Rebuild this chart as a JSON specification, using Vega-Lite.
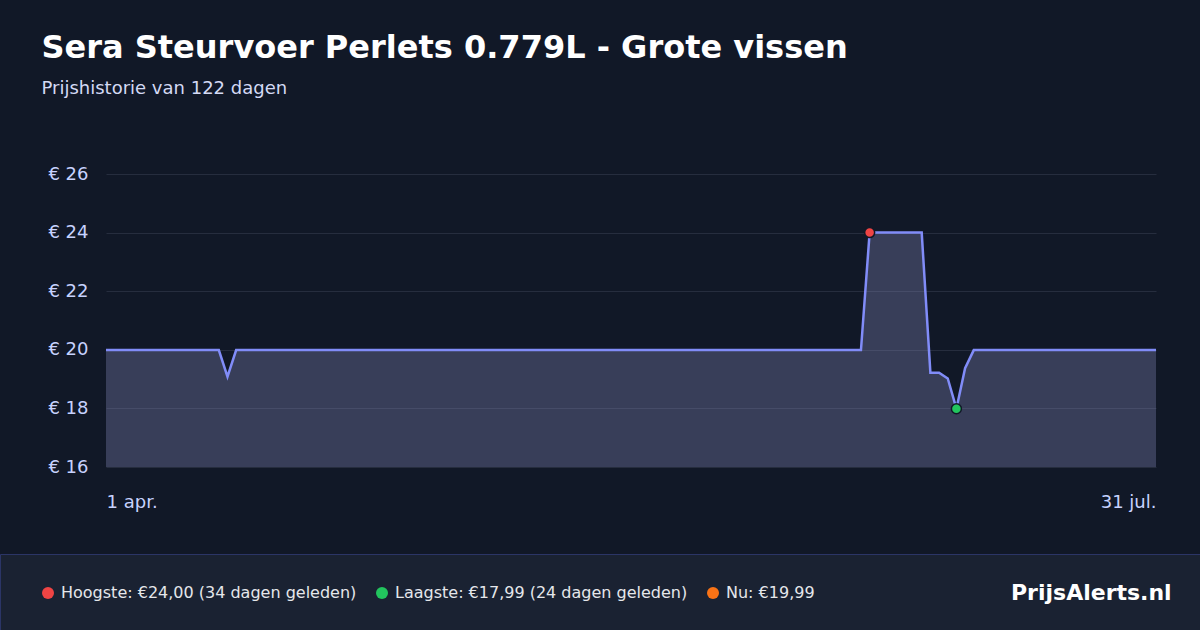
{
  "$schema": "https://vega.github.io/schema/vega-lite/v6.json",
  "background": "#111827",
  "autosize": {"type": "none"},
  "padding": {"left": 106, "top": 174, "right": 44, "bottom": 163},
  "width": 1050,
  "height": 293,
  "title": {
    "text": "Sera Steurvoer Perlets 0.779L - Grote vissen",
    "subtitle": "Prijshistorie van 122 dagen",
    "anchor": "start",
    "dx": 42,
    "offset": 66,
    "font": "DejaVu Sans",
    "fontSize": 32,
    "fontWeight": "bold",
    "color": "#ffffff",
    "subtitleFont": "DejaVu Sans",
    "subtitleFontSize": 18,
    "subtitleColor": "#d4daf5",
    "subtitlePadding": 15
  },
  "data": {
    "values": [
      {"dag": "2025-04-01", "prijs": 19.99}, {"dag": "2025-04-02", "prijs": 19.99}, {"dag": "2025-04-03", "prijs": 19.99},
      {"dag": "2025-04-04", "prijs": 19.99}, {"dag": "2025-04-05", "prijs": 19.99}, {"dag": "2025-04-06", "prijs": 19.99},
      {"dag": "2025-04-07", "prijs": 19.99}, {"dag": "2025-04-08", "prijs": 19.99}, {"dag": "2025-04-09", "prijs": 19.99},
      {"dag": "2025-04-10", "prijs": 19.99}, {"dag": "2025-04-11", "prijs": 19.99}, {"dag": "2025-04-12", "prijs": 19.99},
      {"dag": "2025-04-13", "prijs": 19.99}, {"dag": "2025-04-14", "prijs": 19.99}, {"dag": "2025-04-15", "prijs": 19.08},
      {"dag": "2025-04-16", "prijs": 19.99}, {"dag": "2025-04-17", "prijs": 19.99}, {"dag": "2025-04-18", "prijs": 19.99},
      {"dag": "2025-04-19", "prijs": 19.99}, {"dag": "2025-04-20", "prijs": 19.99}, {"dag": "2025-04-21", "prijs": 19.99},
      {"dag": "2025-04-22", "prijs": 19.99}, {"dag": "2025-04-23", "prijs": 19.99}, {"dag": "2025-04-24", "prijs": 19.99},
      {"dag": "2025-04-25", "prijs": 19.99}, {"dag": "2025-04-26", "prijs": 19.99}, {"dag": "2025-04-27", "prijs": 19.99},
      {"dag": "2025-04-28", "prijs": 19.99}, {"dag": "2025-04-29", "prijs": 19.99}, {"dag": "2025-04-30", "prijs": 19.99},
      {"dag": "2025-05-01", "prijs": 19.99}, {"dag": "2025-05-02", "prijs": 19.99}, {"dag": "2025-05-03", "prijs": 19.99},
      {"dag": "2025-05-04", "prijs": 19.99}, {"dag": "2025-05-05", "prijs": 19.99}, {"dag": "2025-05-06", "prijs": 19.99},
      {"dag": "2025-05-07", "prijs": 19.99}, {"dag": "2025-05-08", "prijs": 19.99}, {"dag": "2025-05-09", "prijs": 19.99},
      {"dag": "2025-05-10", "prijs": 19.99}, {"dag": "2025-05-11", "prijs": 19.99}, {"dag": "2025-05-12", "prijs": 19.99},
      {"dag": "2025-05-13", "prijs": 19.99}, {"dag": "2025-05-14", "prijs": 19.99}, {"dag": "2025-05-15", "prijs": 19.99},
      {"dag": "2025-05-16", "prijs": 19.99}, {"dag": "2025-05-17", "prijs": 19.99}, {"dag": "2025-05-18", "prijs": 19.99},
      {"dag": "2025-05-19", "prijs": 19.99}, {"dag": "2025-05-20", "prijs": 19.99}, {"dag": "2025-05-21", "prijs": 19.99},
      {"dag": "2025-05-22", "prijs": 19.99}, {"dag": "2025-05-23", "prijs": 19.99}, {"dag": "2025-05-24", "prijs": 19.99},
      {"dag": "2025-05-25", "prijs": 19.99}, {"dag": "2025-05-26", "prijs": 19.99}, {"dag": "2025-05-27", "prijs": 19.99},
      {"dag": "2025-05-28", "prijs": 19.99}, {"dag": "2025-05-29", "prijs": 19.99}, {"dag": "2025-05-30", "prijs": 19.99},
      {"dag": "2025-05-31", "prijs": 19.99},
      {"dag": "2025-06-01", "prijs": 19.99}, {"dag": "2025-06-02", "prijs": 19.99}, {"dag": "2025-06-03", "prijs": 19.99},
      {"dag": "2025-06-04", "prijs": 19.99}, {"dag": "2025-06-05", "prijs": 19.99}, {"dag": "2025-06-06", "prijs": 19.99},
      {"dag": "2025-06-07", "prijs": 19.99}, {"dag": "2025-06-08", "prijs": 19.99}, {"dag": "2025-06-09", "prijs": 19.99},
      {"dag": "2025-06-10", "prijs": 19.99}, {"dag": "2025-06-11", "prijs": 19.99}, {"dag": "2025-06-12", "prijs": 19.99},
      {"dag": "2025-06-13", "prijs": 19.99}, {"dag": "2025-06-14", "prijs": 19.99}, {"dag": "2025-06-15", "prijs": 19.99},
      {"dag": "2025-06-16", "prijs": 19.99}, {"dag": "2025-06-17", "prijs": 19.99}, {"dag": "2025-06-18", "prijs": 19.99},
      {"dag": "2025-06-19", "prijs": 19.99}, {"dag": "2025-06-20", "prijs": 19.99}, {"dag": "2025-06-21", "prijs": 19.99},
      {"dag": "2025-06-22", "prijs": 19.99}, {"dag": "2025-06-23", "prijs": 19.99}, {"dag": "2025-06-24", "prijs": 19.99},
      {"dag": "2025-06-25", "prijs": 19.99}, {"dag": "2025-06-26", "prijs": 19.99}, {"dag": "2025-06-27", "prijs": 19.99},
      {"dag": "2025-06-28", "prijs": 24.00, "punt": "Hoogste"}, {"dag": "2025-06-29", "prijs": 24.00}, {"dag": "2025-06-30", "prijs": 24.00},
      {"dag": "2025-07-01", "prijs": 24.00}, {"dag": "2025-07-02", "prijs": 24.00}, {"dag": "2025-07-03", "prijs": 24.00},
      {"dag": "2025-07-04", "prijs": 24.00}, {"dag": "2025-07-05", "prijs": 19.22}, {"dag": "2025-07-06", "prijs": 19.22},
      {"dag": "2025-07-07", "prijs": 19.02}, {"dag": "2025-07-08", "prijs": 17.99, "punt": "Laagste"}, {"dag": "2025-07-09", "prijs": 19.37},
      {"dag": "2025-07-10", "prijs": 19.99}, {"dag": "2025-07-11", "prijs": 19.99}, {"dag": "2025-07-12", "prijs": 19.99},
      {"dag": "2025-07-13", "prijs": 19.99}, {"dag": "2025-07-14", "prijs": 19.99}, {"dag": "2025-07-15", "prijs": 19.99},
      {"dag": "2025-07-16", "prijs": 19.99}, {"dag": "2025-07-17", "prijs": 19.99}, {"dag": "2025-07-18", "prijs": 19.99},
      {"dag": "2025-07-19", "prijs": 19.99}, {"dag": "2025-07-20", "prijs": 19.99}, {"dag": "2025-07-21", "prijs": 19.99},
      {"dag": "2025-07-22", "prijs": 19.99}, {"dag": "2025-07-23", "prijs": 19.99}, {"dag": "2025-07-24", "prijs": 19.99},
      {"dag": "2025-07-25", "prijs": 19.99}, {"dag": "2025-07-26", "prijs": 19.99}, {"dag": "2025-07-27", "prijs": 19.99},
      {"dag": "2025-07-28", "prijs": 19.99}, {"dag": "2025-07-29", "prijs": 19.99}, {"dag": "2025-07-30", "prijs": 19.99},
      {"dag": "2025-07-31", "prijs": 19.99}
    ]
  },
  "encoding": {
    "x": {
      "field": "dag",
      "type": "temporal",
      "scale": {"type": "utc", "nice": false},
      "axis": {
        "values": [
          {"year": 2025, "month": "apr", "date": 1, "utc": true},
          {"year": 2025, "month": "jul", "date": 31, "utc": true}
        ],
        "labelExpr": "utcdate(datum.value) + ' ' + ['jan.', 'feb.', 'mrt.', 'apr.', 'mei', 'jun.', 'jul.', 'aug.', 'sep.', 'okt.', 'nov.', 'dec.'][utcmonth(datum.value)]",
        "labelFlush": true,
        "domain": false,
        "ticks": false,
        "grid": false,
        "labelPadding": 26,
        "labelFontSize": 18,
        "labelColor": "#c7d2fe",
        "title": null
      }
    },
    "y": {
      "field": "prijs",
      "type": "quantitative",
      "scale": {"domain": [16, 26], "zero": false, "nice": false},
      "axis": {
        "values": [16, 18, 20, 22, 24, 26],
        "labelExpr": "'€ ' + datum.value",
        "domain": false,
        "ticks": false,
        "grid": true,
        "gridColor": "#262d3e",
        "labelPadding": 18,
        "labelFontSize": 18,
        "labelColor": "#c7d2fe",
        "minExtent": 106,
        "title": null
      }
    }
  },
  "layer": [
    {
      "mark": {"type": "area", "color": "#8a8bc0", "opacity": 0.33},
      "encoding": {"y2": {"datum": 16}}
    },
    {
      "mark": {"type": "line", "color": "#818cf8", "strokeWidth": 2.5}
    },
    {
      "transform": [{"filter": "isValid(datum.punt)"}],
      "mark": {"type": "point", "filled": true, "size": 100, "opacity": 1, "stroke": "#111827", "strokeWidth": 1.5},
      "encoding": {
        "color": {
          "field": "punt",
          "type": "nominal",
          "scale": {"domain": ["Hoogste", "Laagste", "Nu"], "range": ["#ef4444", "#22c55e", "#f97316"]},
          "legend": {
            "orient": "none",
            "legendX": -106,
            "legendY": 380,
            "direction": "horizontal",
            "fillColor": "#1a2232",
            "strokeColor": "#2b3566",
            "padding": 28,
            "title": "PrijsAlerts.nl",
            "titleOrient": "right",
            "titleAnchor": "middle",
            "titleBaseline": "middle",
            "titlePadding": 196,
            "titleFont": "DejaVu Sans",
            "titleFontSize": 22,
            "titleFontWeight": "bold",
            "titleColor": "#ffffff",
            "titleLimit": 400,
            "clipHeight": 22,
            "symbolType": "circle",
            "symbolSize": 144,
            "symbolStrokeWidth": 0,
            "symbolOpacity": 1,
            "symbolOffset": 12,
            "labelFontSize": 16,
            "labelColor": "#e5e7eb",
            "labelOffset": 5,
            "labelLimit": 400,
            "columnPadding": -2,
            "labelExpr": "datum.label == 'Hoogste' ? 'Hoogste: €24,00  (34 dagen geleden)' : datum.label == 'Laagste' ? 'Laagste: €17,99  (24 dagen geleden)' : 'Nu: €19,99'"
          }
        }
      }
    }
  ],
  "config": {
    "font": "DejaVu Sans",
    "view": {"stroke": null}
  }
}
